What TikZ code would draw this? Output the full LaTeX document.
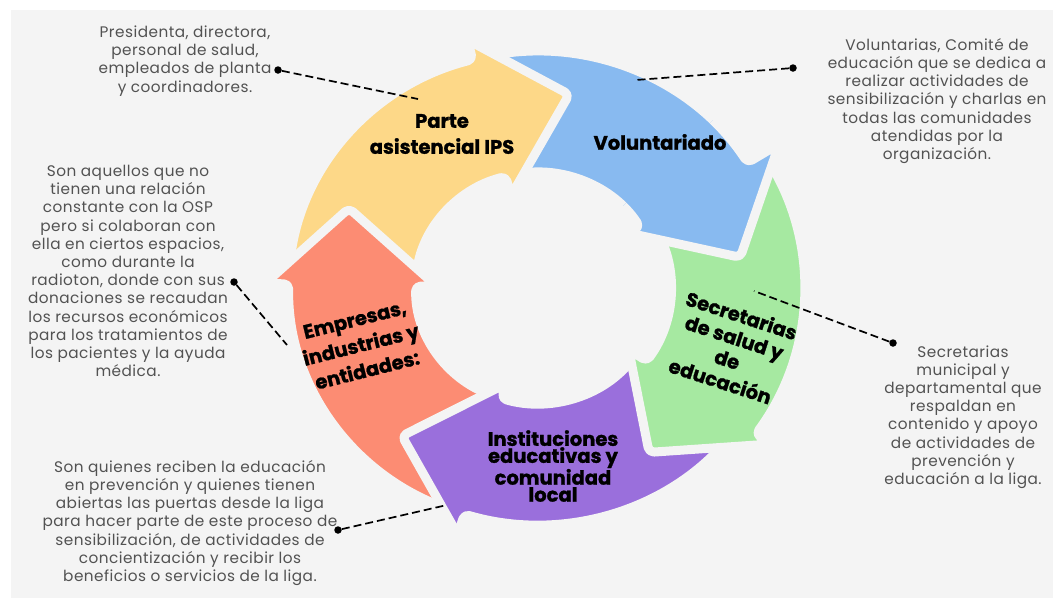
\documentclass[tikz,border=0pt]{standalone}
\usepackage{fontspec}
\setmainfont{Poppins}[BoldFeatures={FakeBold=1.2}]
\newfontfamily\descfont{Poppins}[LetterSpace=3]
\definecolor{bgc}{HTML}{F4F4F4}
\definecolor{descc}{HTML}{525252}
\definecolor{cyel}{HTML}{FDD888}
\definecolor{cblu}{HTML}{88BAF0}
\definecolor{cgre}{HTML}{A6E9A1}
\definecolor{cpur}{HTML}{9A6FDC}
\definecolor{cora}{HTML}{FC8C73}
% #1 colour, #2 tail angle, #3 head base angle, #4 tip angle,
% #5 inner radius, #6 outer radius, #7 head inner radius, #8 head outer radius
\newcommand\ringarrow[8]{%
  \path[fill=#1, draw=bgc, line width=9pt, rounded corners=5pt, line join=round]
    (#2:#6) arc[start angle=#2, end angle=#3, radius=#6]
    -- (#3:#8) -- (#4:196) -- (#3:#7) -- (#3:#5)
    arc[start angle=#3, end angle=#2, radius=#5] -- cycle;}
\begin{document}
\begin{tikzpicture}[x=1pt,y=-1pt,
  desc/.style={align=center, text=descc, font=\descfont\fontsize{15.3}{18.2}\selectfont, inner sep=0pt},
  lab/.style={align=center, text=black, font=\fontsize{19.5}{#1}\selectfont\bfseries, inner sep=0pt},
  lab/.default=22,
  dotc/.style={circle, fill=black, inner sep=0pt, minimum size=7.5pt},
  lead/.style={draw=black, line width=1.7pt, dash pattern=on 8pt off 4pt}]
\useasboundingbox (0,0) rectangle (1053,598);
\fill[white] (0,0) rectangle (1053,598);
\fill[bgc] (11,10) rectangle (1053,598);

\begin{scope}[shift={(537,288)}, yscale=-1, xscale=1.05]
  \ringarrow{cblu}{101.5}{32}{9}{115.5}{236.5}{103.5}{272}
  \ringarrow{cyel}{175.5}{105}{81}{115.5}{236.5}{95.5}{257}
  \ringarrow{cora}{249.5}{179}{156}{115.5}{236.5}{95.5}{259}
  \ringarrow{cpur}{-38.5}{-107}{-131}{115.5}{236.5}{100}{258}
  \ringarrow{cgre}{29}{-35}{-57}{127.5}{254.5}{106.5}{272}
  \begin{scope}
    \clip (0,0) -- (45:330) -- (20:350) -- (-5:330) -- cycle;
    \ringarrow{cblu}{101.5}{32}{9}{115.5}{236.5}{103.5}{272}
  \end{scope}
\end{scope}

% labels on the ring
\node[lab=26] (ips) at (442,134) {Parte\\asistencial IPS};
\node[lab] (vol) at (660,142) {Voluntariado};
\node[lab=23, rotate=-18] (sec) at (731,348) {Secretarias\\de salud y\\de\\educación};
\node[lab=17] (ins) at (553,466) {Instituciones\\educativas y\\comunidad\\local};
\node[lab=26, rotate=14] (emp) at (361,345) {Empresas,\\industrias y\\entidades:};

% descriptions
\node[desc] (t1) at (185,61) {Presidenta, directora,\\personal de salud,\\empleados de planta\\y coordinadores.};
\node[desc] (t2) at (937,101) {Voluntarias, Comité de\\educación que se dedica a\\realizar actividades de\\sensibilización y charlas en\\todas las comunidades\\atendidas por la\\organización.};
\node[desc] (t3) at (128,271) {Son aquellos que no\\tienen una relación\\constante con la OSP\\pero si colaboran con\\ella en ciertos espacios,\\como durante la\\radioton, donde con sus\\donaciones se recaudan\\los recursos económicos\\para los tratamientos de\\los pacientes y la ayuda\\médica.};
\node[desc] (t4) at (963,417) {Secretarias\\municipal y\\departamental que\\respaldan en\\contenido y apoyo\\de actividades de\\prevención y\\educación a la liga.};
\node[desc] (t5) at (190,523) {Son quienes reciben la educación\\en prevención y quienes tienen\\abiertas las puertas desde la liga\\para hacer parte de este proceso de\\sensibilización, de actividades de\\concientización y recibir los\\beneficios o servicios de la liga.};

% leaders
\node[dotc] (d1) at (278,70) {};
\coordinate (e1) at (418,99);
\draw[lead] (d1) -- (e1);
\node[dotc] (d2) at (793,68) {};
\coordinate (e2) at (636,80);
\draw[lead] (d2) -- (e2);
\node[dotc] (d3) at (234,282) {};
\coordinate (e3) at (287,345);
\draw[lead] (d3) -- (e3);
\node[dotc] (d4) at (893,343) {};
\coordinate (e4) at (754,291);
\draw[lead] (d4) -- (e4);
\node[dotc] (d5) at (338,530) {};
\coordinate (e5) at (447,505);
\draw[lead] (d5) -- (e5);
\end{tikzpicture}
\end{document}
